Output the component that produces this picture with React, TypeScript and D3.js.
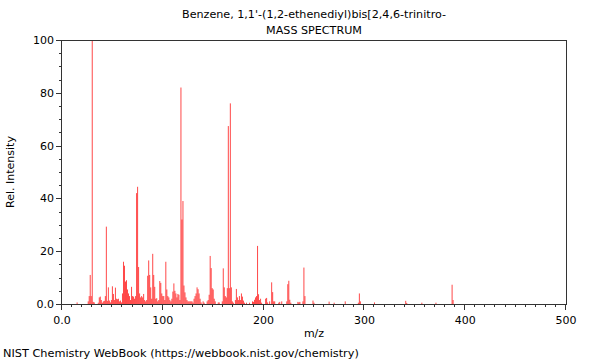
import React from "react";
import * as d3 from "d3";

const titleLines = ["Benzene, 1,1'-(1,2-ethenediyl)bis[2,4,6-trinitro-", "MASS SPECTRUM"];
const xLabel = "m/z";
const yLabel = "Rel. Intensity";
const footer = "NIST Chemistry WebBook (https://webbook.nist.gov/chemistry)";

const mzValues = [
  15, 26, 27, 28, 29, 30, 31, 32, 36, 37, 38, 39, 40, 41, 42, 43, 44, 45, 46, 47, 48, 49,
  50, 51, 52, 53, 54, 55, 56, 57, 58, 59, 60, 61, 62, 63, 64, 65, 66, 67, 68, 69,
  70, 71, 72, 73, 74, 75, 76, 77, 78, 79, 80, 81, 82, 83, 84, 85, 86, 87, 88, 89,
  90, 91, 92, 93, 94, 95, 96, 97, 98, 99, 100, 101, 102, 103, 104, 105, 106, 107, 108, 109,
  110, 111, 112, 113, 114, 115, 116, 117, 118, 119, 120, 121, 122, 123, 124, 125, 126, 127, 128, 129,
  130, 131, 132, 133, 134, 135, 136, 137, 138, 140, 141, 144, 145, 146, 147, 148, 149,
  150, 151, 152, 155, 156, 159, 160, 161, 162, 163, 164, 165, 166, 167, 168, 169,
  170, 172, 173, 174, 175, 176, 177, 178, 179, 180, 181, 183, 186, 189,
  190, 191, 192, 193, 194, 195, 196, 197, 198, 202, 203, 204, 206, 208, 209,
  210, 211, 215, 216, 218, 223, 224, 225, 226, 227, 234, 235, 236, 239, 240, 241, 249,
  250, 265, 270, 281, 294, 295, 296, 310, 341, 342, 357, 371, 387, 388,
];
const intensities = [
  0.6, 1, 3, 11, 3, 100, 0.8, 0.6, 0.5, 2.5, 2.8, 1.5, 0.5, 1, 1.2, 3, 29.3, 1.2, 6.3, 1.3, 0.6, 1.5,
  6.7, 3.8, 1.5, 6.2, 2, 1.8, 2, 1, 1.3, 0.6, 4, 16, 14.5, 8.5, 9, 5.5, 4, 3, 1.5, 6.5,
  3, 2.8, 2, 3, 42, 44.4, 14, 4, 2.5, 3, 2.5, 3.8, 1.5, 1, 1.5, 10.7, 16.5, 11, 6.3, 2,
  19, 11, 6.5, 2, 2.2, 1, 1.5, 8.7, 8, 4, 3, 3, 1.5, 16, 5.5, 3, 2.5, 1.5, 1, 2,
  4.7, 7.8, 5, 4, 2.5, 3.8, 3.5, 1.5, 82, 32, 39, 7, 4.4, 2.5, 1.5, 1, 1, 1, 1, 1,
  0.5, 2, 3, 4, 6.3, 5.6, 4, 2, 0.6, 1, 0.5, 1, 1.5, 3.5, 18.2, 13.6, 6,
  5.5, 2, 1, 0.6, 0.6, 1, 13.5, 6.3, 3, 2.5, 6, 67.4, 6, 76, 6.3, 1,
  0.5, 1.5, 5.7, 2.5, 1.5, 3, 1.5, 4, 2.8, 1.3, 0.5, 0.5, 0.5, 1,
  0.8, 1.6, 2.5, 3, 22, 3.7, 1.5, 2, 0.5, 2, 2.3, 0.6, 1, 8.2, 4.5,
  1, 1, 0.5, 0.8, 1, 1, 7.5, 8.8, 1.6, 0.5, 0.8, 0.6, 0.8, 1, 13.8, 3, 1.3,
  0.5, 0.9, 0.5, 1, 0.5, 4, 1, 0.6, 1.2, 0.4, 0.5, 0.5, 7.3, 1.5,
];

const xMajorTicks = [0, 100, 200, 300, 400, 500];
const xTickLabels = ["0.0", "100", "200", "300", "400", "500"];
const yMajorTicks = [0, 20, 40, 60, 80, 100];
const yTickLabels = ["0.0", "20", "40", "60", "80", "100"];

const W = 600;
const H = 360;
const left = 62;
const right = 566;
const top = 40;
const bottom = 304;
const font = "DejaVu Sans, sans-serif";

export default function App() {
  const x = d3.scaleLinear().domain([0, 500]).range([left, right]);
  const y = d3.scaleLinear().domain([0, 100]).range([bottom, top]);
  const xMinor = d3.range(0, 501, 10).filter((v) => v % 100 !== 0);
  const yMinor = d3.range(0, 101, 5).filter((v) => v % 20 !== 0);
  const peaks = mzValues.map((m, i) => ({ m, v: intensities[i] }));
  const axisColor = "#333";

  return (
    <svg width={W} height={H} style={{ position: "absolute", left: 0, top: 0, background: "#fff" }}>
      <rect x={0} y={0} width={W} height={H} fill="#fff" />
      <g fontFamily={font} fontSize={11.15} fill="#000">
        <text x={(left + right) / 2} y={18} textAnchor="middle">{titleLines[0]}</text>
        <text x={(left + right) / 2} y={34} textAnchor="middle">{titleLines[1]}</text>
      </g>
      {peaks.map((p, i) => (
        <line
          key={i}
          x1={x(p.m)}
          x2={x(p.m)}
          y1={y(0)}
          y2={y(p.v)}
          stroke="#ff0000"
          strokeOpacity={0.72}
          strokeWidth={1}
        />
      ))}
      <g shapeRendering="crispEdges" stroke={axisColor} strokeWidth={1}>
        <line x1={left} x2={right} y1={top + 0.5} y2={top + 0.5} />
        <line x1={right + 0.5} x2={right + 0.5} y1={top} y2={bottom} />
        <line x1={left - 0.5} x2={left - 0.5} y1={top} y2={bottom + 1} />
        <line x1={left} x2={right + 1} y1={bottom + 0.5} y2={bottom + 0.5} />
        {xMajorTicks.map((t) => (
          <line key={"xm" + t} x1={Math.round(x(t)) - 0.5} x2={Math.round(x(t)) - 0.5} y1={bottom} y2={bottom + 6} />
        ))}
        {xMinor.map((t) => (
          <line key={"xn" + t} x1={Math.round(x(t)) - 0.5} x2={Math.round(x(t)) - 0.5} y1={bottom} y2={bottom + 3} />
        ))}
        {yMajorTicks.map((t) => (
          <line key={"ym" + t} x1={left - 6} x2={left} y1={Math.round(y(t)) + 0.5} y2={Math.round(y(t)) + 0.5} />
        ))}
        {yMinor.map((t) => (
          <line key={"yn" + t} x1={left - 3} x2={left} y1={Math.round(y(t)) + 0.5} y2={Math.round(y(t)) + 0.5} />
        ))}
      </g>
      <g fontFamily={font} fontSize={11} fill="#000">
        {xMajorTicks.map((t, i) => (
          <text key={"xl" + t} x={x(t)} y={bottom + 20} textAnchor="middle">{xTickLabels[i]}</text>
        ))}
        {yMajorTicks.map((t, i) => (
          <text key={"yl" + t} x={left - 8} y={y(t) + 4} textAnchor="end">{yTickLabels[i]}</text>
        ))}
        <text x={(left + right) / 2} y={337} textAnchor="middle">{xLabel}</text>
        <text transform={`translate(14, ${(top + bottom) / 2}) rotate(-90)`} textAnchor="middle">{yLabel}</text>
        <text x={3} y={357} fontSize={11.3}>{footer}</text>
      </g>
    </svg>
  );
}
